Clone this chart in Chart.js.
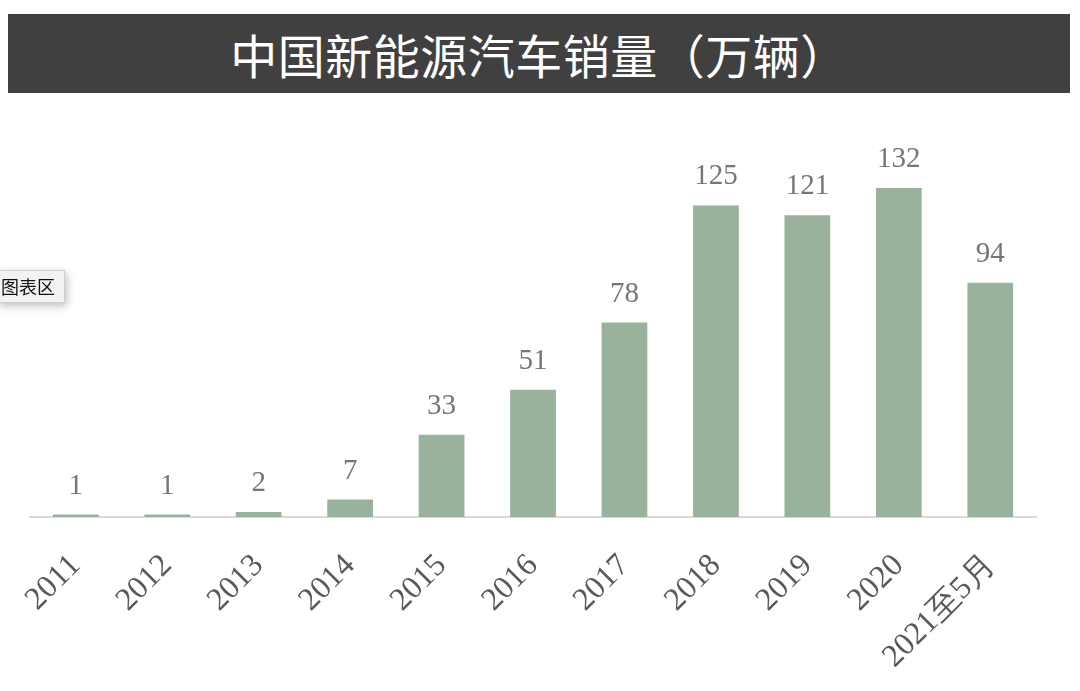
<!DOCTYPE html>
<html>
<head>
<meta charset="utf-8">
<script src="https://cdn.jsdelivr.net/npm/chart.js@4/dist/chart.umd.min.js"></script>
<style>
  html, body { margin: 0; padding: 0; background: #fff; }
  #wrap { position: relative; width: 1080px; height: 691px; overflow: hidden; }
  #titleBar {
    position: absolute; left: 8px; top: 14px; width: 1062px; height: 79px;
    background: #404040; color: #fff;
    font-family: "Noto Sans CJK SC", sans-serif; font-size: 47px; font-weight: 400;
    line-height: 79px; text-align: center; letter-spacing: 0.5px;
  }
  #tip {
    position: absolute; left: -3px; top: 270px; height: 31px; padding: 0 9px 0 3px;
    background: #f2f2f2; border: 1px solid #cfcfcf;
    box-shadow: 2px 3px 8px rgba(0,0,0,0.25);
    font-family: "Noto Sans CJK SC", sans-serif; font-size: 18px; line-height: 31px; color: #111;
  }
  canvas { position: absolute; left: 0; top: 0; }
</style>
</head>
<body>
<div id="wrap">
  <canvas id="salesChart" width="1080" height="691"></canvas>
  <div id="titleBar">中国新能源汽车销量（万辆）</div>
  <div id="tip">图表区</div>
</div>
<script>
const years = ['2011', '2012', '2013', '2014', '2015', '2016', '2017', '2018', '2019', '2020', '2021至5月'];
const sales = [1, 1, 2, 7, 33, 51, 78, 125, 121, 132, 94];

// draws the value above each bar
const barLabels = {
    id: 'barLabels',
    afterDatasetsDraw(chart) {
        const c = chart.ctx;
        const meta = chart.getDatasetMeta(0);
        c.save();
        c.font = '29px "Liberation Serif", "DejaVu Serif", serif';
        c.fillStyle = '#767676';
        c.textAlign = 'center';
        c.textBaseline = 'alphabetic';
        meta.data.forEach((bar, i) => {
            c.fillText(String(sales[i]), bar.x, bar.y - 21);
        });
        c.restore();
    }
};

const ctx = document.getElementById('salesChart').getContext('2d');
const salesChart = new Chart(ctx, {
    type: 'bar',
    data: {
        labels: years,
        datasets: [{
            data: sales,
            backgroundColor: '#99b29c',
            borderWidth: 0,
            categoryPercentage: 1,
            barPercentage: 0.5
        }]
    },
    options: {
        responsive: false,
        animation: false,
        layout: { padding: { left: 30, right: 44, top: 168, bottom: 0 } },
        plugins: { legend: { display: false }, tooltip: { enabled: false } },
        scales: {
            x: {
                afterFit: (s) => { s.height = 174; },
                grid: { display: false, drawTicks: false },
                border: { color: '#d9d9d9', width: 2 },
                ticks: {
                    color: '#595959',
                    padding: 30,
                    minRotation: 45,
                    maxRotation: 45,
                    font: { family: '"Liberation Serif", "DejaVu Serif", serif', size: 32 }
                }
            },
            y: {
                display: false,
                min: 0,
                max: 140
            }
        }
    },
    plugins: [barLabels]
});
</script>
</body>
</html>
